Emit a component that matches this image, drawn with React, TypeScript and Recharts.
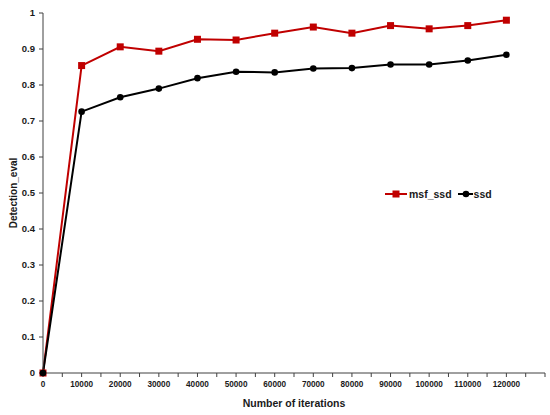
import { LineChart, Line, XAxis, YAxis, Label } from "recharts";

const iterations = [0, 10000, 20000, 30000, 40000, 50000, 60000, 70000, 80000, 90000, 100000, 110000, 120000];
const msfSsd = [0, 0.854, 0.906, 0.894, 0.927, 0.925, 0.944, 0.961, 0.944, 0.965, 0.956, 0.965, 0.98];
const ssd = [0, 0.726, 0.766, 0.79, 0.819, 0.837, 0.835, 0.846, 0.847, 0.857, 0.857, 0.868, 0.884];

// minor ticks every 5000, labels only on the 10000s up to 120000
const xTicks = [
  0, 5000, 10000, 15000, 20000, 25000, 30000, 35000, 40000, 45000, 50000, 55000, 60000, 65000,
  70000, 75000, 80000, 85000, 90000, 95000, 100000, 105000, 110000, 115000, 120000, 125000, 130000,
];
const yTicks = [0, 0.1, 0.2, 0.3, 0.4, 0.5, 0.6, 0.7, 0.8, 0.9, 1];

const RED = "#c00000";
const BLACK = "#000000";
const AXIS = "#404040";
const TEXT = "#1a1a1a";
const FONT = "'Liberation Sans', Arial, sans-serif";

const data = iterations.map((it, i) => ({ it, msf_ssd: msfSsd[i], ssd: ssd[i] }));

const SquareDot = (props: any) => {
  const { cx, cy, index } = props;
  if (cx == null || cy == null) return <g key={index} />;
  return <rect key={index} x={cx - 3.5} y={cy - 3.5} width={7} height={7} fill={RED} />;
};

const XTick = (props: any) => {
  const { x, y, payload } = props;
  const v = payload.value;
  if (v % 10000 !== 0 || v > 120000) return <g />;
  return (
    <text x={x} y={y + 8} textAnchor="middle" fontSize={8.2} fontWeight="bold" fill={TEXT} fontFamily={FONT}>
      {v}
    </text>
  );
};

// ── Legend (plain overlay so it doesn't shrink the plot) ─────────
const ChartLegend = () => (
  <div
    style={{
      position: "absolute", left: 385, top: 188,
      display: "flex", alignItems: "center",
      fontFamily: FONT, fontWeight: "bold", fontSize: 10.5, color: TEXT,
    }}
  >
    <svg width={23} height={10}>
      <line x1={0} y1={5} x2={22} y2={5} stroke={RED} strokeWidth={2} />
      <rect x={7.5} y={1.5} width={7} height={7} fill={RED} />
    </svg>
    <span style={{ marginLeft: 1, marginRight: 6 }}>msf_ssd</span>
    <svg width={15} height={10}>
      <line x1={0} y1={5} x2={15} y2={5} stroke={BLACK} strokeWidth={2} />
      <circle cx={8} cy={5} r={3.3} fill={BLACK} />
    </svg>
    <span style={{ marginLeft: 1 }}>ssd</span>
  </div>
);

export default function App() {
  return (
    <div style={{ position: "absolute", left: 0, top: 0, width: 550, height: 415, background: "#fff" }}>
      <LineChart width={550} height={415} data={data} margin={{ top: 13, right: 5, left: 0, bottom: 0 }}>
        <XAxis
          dataKey="it"
          type="number"
          domain={[0, 130000]}
          ticks={xTicks}
          interval={0}
          tick={<XTick />}
          tickSize={4}
          height={42}
          stroke={AXIS}
          axisLine={{ stroke: AXIS, strokeWidth: 1 }}
          tickLine={{ stroke: AXIS }}
        >
          <Label
            content={(p: any) => {
              const vb = p.viewBox;
              return (
                <text x={vb.x + vb.width / 2} y={vb.y + 34} textAnchor="middle" fontSize={10.5} fontWeight="bold" fill={TEXT} fontFamily={FONT}>
                  Number of iterations
                </text>
              );
            }}
          />
        </XAxis>
        <YAxis
          type="number"
          domain={[0, 1]}
          ticks={yTicks}
          interval={0}
          width={43}
          tickSize={4}
          tickMargin={4}
          stroke={AXIS}
          tick={{ fontSize: 9.5, fontWeight: "bold", fill: TEXT, fontFamily: FONT }}
          tickLine={{ stroke: AXIS }}
        >
          <Label
            content={(p: any) => {
              const vb = p.viewBox;
              const cy = vb.y + vb.height / 2;
              return (
                <text x={17} y={cy} transform={`rotate(-90 17 ${cy})`} textAnchor="middle" fontSize={10} fontWeight="bold" fill={TEXT} fontFamily={FONT}>
                  Detection_eval
                </text>
              );
            }}
          />
        </YAxis>
        <Line
          dataKey="msf_ssd"
          name="msf_ssd"
          stroke={RED}
          strokeWidth={2}
          dot={<SquareDot />}
          activeDot={false}
          isAnimationActive={false}
        />
        <Line
          dataKey="ssd"
          name="ssd"
          stroke={BLACK}
          strokeWidth={2}
          dot={{ r: 3.3, fill: BLACK, stroke: BLACK, strokeWidth: 0 }}
          activeDot={false}
          isAnimationActive={false}
        />
      </LineChart>
      <ChartLegend />
    </div>
  );
}
